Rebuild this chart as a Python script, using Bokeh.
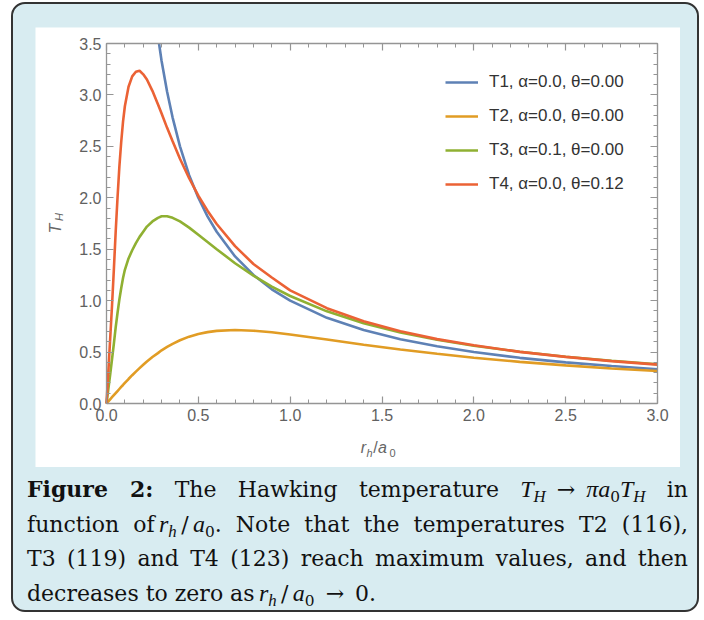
from bokeh.plotting import figure
from bokeh.models import (Range1d, LinearAxis, FixedTicker, PrintfTickFormatter,
                          CustomJSTickFormatter, Legend, LegendItem, Label, Div)
from bokeh.layouts import column
from bokeh.embed import file_html
from bokeh.resources import INLINE

# ---------------- data ----------------
r = [0.0, 0.01, 0.02, 0.03, 0.04, 0.05, 0.06, 0.07, 0.08, 0.09, 0.10, 0.12, 0.14,
     0.16, 0.18, 0.20, 0.22, 0.25, 0.28, 0.30, 0.33, 0.36, 0.40, 0.45, 0.50, 0.55,
     0.60, 0.70, 0.80, 0.90, 1.0, 1.2, 1.4, 1.6, 1.8, 2.0, 2.25, 2.5, 2.75, 3.0]

r1 = [0.286, 0.30, 0.33, 0.36, 0.40, 0.45, 0.50, 0.55, 0.60, 0.70, 0.80, 0.90, 1.0,
      1.2, 1.4, 1.6, 1.8, 2.0, 2.25, 2.5, 2.75, 3.0]
t1 = [3.50, 3.33, 3.03, 2.78, 2.50, 2.22, 2.00, 1.82, 1.67, 1.43, 1.25, 1.11, 1.00,
      0.833, 0.714, 0.625, 0.556, 0.500, 0.444, 0.400, 0.364, 0.333]

t2 = [0.0, 0.020, 0.041, 0.061, 0.081, 0.101, 0.121, 0.141, 0.161, 0.180, 0.200,
      0.238, 0.275, 0.310, 0.344, 0.377, 0.409, 0.452, 0.490, 0.517, 0.550, 0.580,
      0.615, 0.650, 0.676, 0.694, 0.706, 0.714, 0.708, 0.692, 0.671, 0.622, 0.571,
      0.525, 0.483, 0.445, 0.405, 0.371, 0.341, 0.316]

t3 = [0.0, 0.14, 0.28, 0.43, 0.58, 0.74, 0.88, 1.01, 1.12, 1.22, 1.30, 1.41, 1.49,
      1.56, 1.62, 1.67, 1.72, 1.77, 1.805, 1.82, 1.82, 1.805, 1.77, 1.71, 1.64, 1.57,
      1.50, 1.364, 1.243, 1.137, 1.045, 0.896, 0.780, 0.690, 0.620, 0.562, 0.503,
      0.455, 0.415, 0.381]

t4 = [0.0, 0.31, 0.63, 0.95, 1.30, 1.67, 2.00, 2.30, 2.54, 2.74, 2.89, 3.08, 3.18,
      3.225, 3.235, 3.20, 3.15, 3.04, 2.91, 2.82, 2.68, 2.55, 2.38, 2.19, 2.02, 1.875,
      1.745, 1.53, 1.356, 1.225, 1.10, 0.927, 0.80, 0.702, 0.626, 0.567, 0.502,
      0.453, 0.412, 0.378]

names = ["T1", "T2", "T3", "T4"]
alphas = ["0.0", "0.0", "0.1", "0.0"]
thetas = ["0.00", "0.00", "0.00", "0.12"]
colors = ["#5E81B5", "#E19C24", "#8FB032", "#EB6235"]

x_lo, x_hi = 0.0, 3.0
y_lo, y_hi = 0.0, 3.5
x_major = [0.0, 0.5, 1.0, 1.5, 2.0, 2.5, 3.0]
x_minor = [i / 10 for i in range(0, 31)]
y_major = [0.0, 0.5, 1.0, 1.5, 2.0, 2.5, 3.0, 3.5]
y_minor = [i / 10 for i in range(0, 36)]

# ---------------- figure ----------------
# The frame fills the white panel; the framed box is drawn with axes pinned
# (fixed_location) at the data limits.
FIG_W, FIG_H = 645, 440
PAD_L, PAD_R, PAD_T, PAD_B = 71, 23, 16, 64
sx = (FIG_W - PAD_L - PAD_R) / (x_hi - x_lo)
sy = (FIG_H - PAD_T - PAD_B) / (y_hi - y_lo)
p = figure(width=FIG_W, height=FIG_H,
           x_range=Range1d(x_lo - PAD_L / sx, x_hi + PAD_R / sx),
           y_range=Range1d(y_lo - PAD_B / sy, y_hi + PAD_T / sy),
           output_backend="svg", toolbar_location=None,
           min_border_left=0, min_border_right=0, min_border_top=0,
           min_border_bottom=0, background_fill_color="white",
           border_fill_color="white", outline_line_color=None,
           margin=(23, 0, 0, 22))
p.grid.visible = False

axis_col = "#959595"
lab_col = "#616161"

def style_axis(ax, ticks, minor, show_labels, loc, bounds):
    ax.fixed_location = loc
    ax.bounds = bounds
    ax.ticker = FixedTicker(ticks=ticks, minor_ticks=minor)
    ax.axis_line_color = axis_col
    ax.axis_line_width = 1.3
    ax.major_tick_line_color = axis_col
    ax.minor_tick_line_color = axis_col
    ax.major_tick_line_width = 1.2
    ax.minor_tick_line_width = 1.0
    ax.major_tick_in = 7
    ax.major_tick_out = 0
    ax.minor_tick_in = 4
    ax.minor_tick_out = 0
    if show_labels:
        ax.formatter = PrintfTickFormatter(format="%.1f")
        ax.major_label_text_font = "Liberation Sans"
        ax.major_label_text_font_size = "16px"
        ax.major_label_text_color = lab_col
        ax.major_label_standoff = 5
    else:
        ax.formatter = CustomJSTickFormatter(code="return ''")
        ax.major_label_standoff = 0

style_axis(p.xaxis[0], x_major, x_minor, True, y_lo, (x_lo, x_hi))
style_axis(p.yaxis[0], y_major, y_minor, True, x_lo, (y_lo, y_hi))
top_ax = LinearAxis()
right_ax = LinearAxis()
style_axis(top_ax, x_major, x_minor, False, y_hi, (x_lo, x_hi))
style_axis(right_ax, y_major, y_minor, False, x_hi, (y_lo, y_hi))
p.add_layout(top_ax, "above")
p.add_layout(right_ax, "right")

series = [(r1, t1), (r, t2), (r, t3), (r, t4)]
items = []
for (xs, ys), n, a, t, c in zip(series, names, alphas, thetas, colors):
    rend = p.line(xs, ys, line_color=c, line_width=2.6)
    items.append(LegendItem(label=f"{n}, α={a}, θ={t}", renderers=[rend]))

legend = Legend(items=items, location="top_right", margin=35, padding=10,
                spacing=14, glyph_width=33, glyph_height=20, label_height=20,
                label_width=146, label_standoff=11, label_text_font="Liberation Sans",
                label_text_font_size="17px", label_text_color="#333333",
                background_fill_alpha=0, border_line_alpha=0)
p.add_layout(legend)

# axis labels (italic with subscripts)
ax_lab_col = "#666666"
def lab(txt, x, y, size, style, angle=0.0):
    p.add_layout(Label(x=x, y=y, text=txt, angle=angle, text_align="center",
                       text_baseline="middle", text_font="Liberation Sans",
                       text_font_style=style, text_font_size=size,
                       text_color=ax_lab_col))

lab("T", -0.278, 1.70, "16px", "italic", 1.5708)
lab("H", -0.259, 1.812, "11px", "italic", 1.5708)
lab("r", 1.399, -0.425, "16px", "italic")
lab("h", 1.432, -0.483, "11px", "italic")
lab("/", 1.465, -0.425, "16px", "normal")
lab("a", 1.503, -0.425, "16px", "italic")
lab("0", 1.557, -0.483, "11px", "normal")

# ---------------- caption ----------------
sub = "font-size:70%;vertical-align:-0.3em;line-height:0;"
mth = "font-family:'Liberation Serif';font-style:italic;font-size:24px;"
def m(s):
    return f"<span style=\"{mth}\">{s}</span>"
def sb(s):
    return f"<span style=\"{sub}\">{s}</span>"

SP = "\u2002"
TH = m("T") + m(sb("H"))
rh_a0 = m("r") + m(sb("h")) + "\u2009/\u2009" + m("a") + sb("0")
line_css = "text-align:justify;text-align-last:justify;"
html = (
    "<div style=\"font-family:'DejaVu Serif';font-size:22px;line-height:34px;"
    "color:#111;width:661px;\">"
    f"<div style=\"{line_css}\"><b>Figure 2:</b> The Hawking temperature "
    f"{TH}{SP}→{SP}{m('πa')}{sb('0')}{TH} in</div>"
    f"<div style=\"{line_css}\">function of\u2009{rh_a0}. Note that the temperatures "
    "T2 (116),</div>"
    f"<div style=\"{line_css}\">T3 (119) and T4 (123) reach maximum values, and then</div>"
    f"<div>decreases to zero as\u2009{rh_a0}{SP}→{SP}0.</div>"
    "</div>"
)
cap = Div(text=html, width=661, height=136, margin=(5, 0, 0, 14))

layout = column(p, cap, width=688, height=610, margin=(2, 0, 0, 11),
                styles={"background-color": "#d8ecf1", "border": "2px solid #333",
                        "border-radius": "14px"})

open("out.html", "w").write(file_html(layout, INLINE))
